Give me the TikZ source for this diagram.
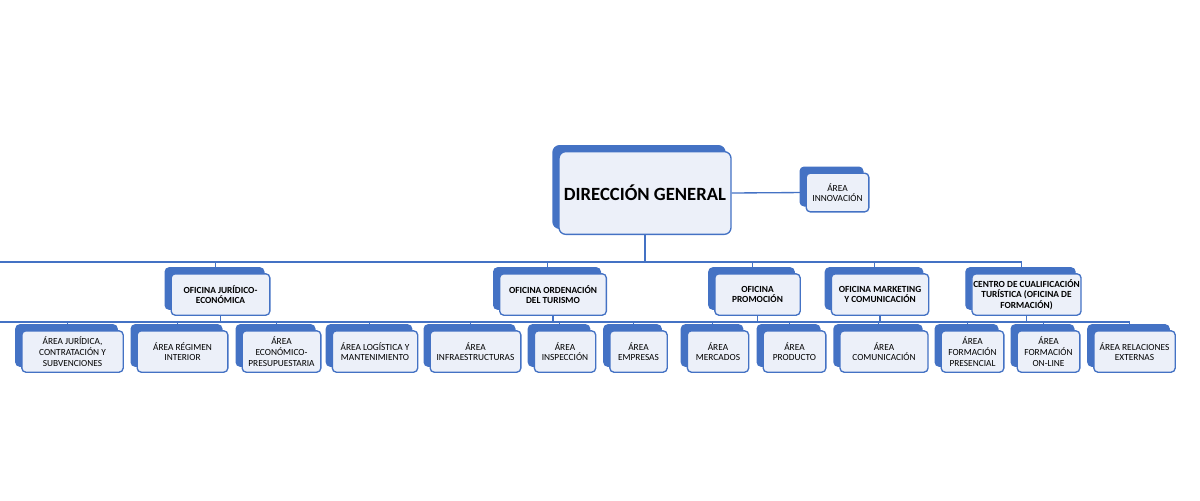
\documentclass[tikz,border=0pt]{standalone}
\usepackage{fontspec}
\setmainfont{Carlito}
\usetikzlibrary{shadows,backgrounds}
\definecolor{orgblue}{RGB}{68,114,196}
\definecolor{orgfill}{RGB}{236,240,249}
\tikzset{
  unit/.style={draw=orgblue, line width=1pt, fill=orgfill, rounded corners=3pt,
    align=center, font=\bfseries\fontsize{7}{8}\selectfont, inner sep=1pt,
    copy shadow={shadow xshift=-4.5pt, shadow yshift=4.5pt, fill=orgblue, draw=orgblue}},
  link/.style={draw=orgblue, line width=1pt}
}
\begin{document}
\begin{tikzpicture}[x=0.75pt,y=-0.75pt]
\useasboundingbox (0,0) rectangle (1200,500);

% Head
\node[unit, minimum width=129pt, minimum height=62pt, rounded corners=5pt,
  font=\bfseries\fontsize{14}{16}\selectfont] (dg) at (645,193) {DIRECCIÓN GENERAL};
\node[unit, minimum width=47pt, minimum height=29pt, font=\fontsize{7}{8}\selectfont] (inn) at (837.5,192.5) {ÁREA\\INNOVACIÓN};

% Offices
\node[unit, minimum width=74pt, minimum height=31pt] (ofj) at (220.5,294.5) {OFICINA JURÍDICO-\\ECONÓMICA};
\node[unit, minimum width=80pt, minimum height=31pt] (ofo) at (553,294.5) {OFICINA ORDENACIÓN\\DEL TURISMO};
\node[unit, minimum width=64pt, minimum height=31pt] (ofp) at (757.5,294.5) {OFICINA\\PROMOCIÓN};
\node[unit, minimum width=73pt, minimum height=31pt] (ofm) at (880,294.5) {OFICINA MARKETING\\Y COMUNICACIÓN};
\node[unit, minimum width=80pt, minimum height=31pt] (ccf) at (1026.5,294.5) {CENTRO DE CUALIFICACIÓN\\TURÍSTICA (OFICINA DE\\FORMACIÓN)};

% Areas
\tikzset{area/.style={unit, minimum height=31pt, font=\fontsize{7}{8}\selectfont}}
\node[area, minimum width=76pt] (ajc) at (72.5,351.5) {ÁREA JURÍDICA,\\CONTRATACIÓN Y\\SUBVENCIONES};
\node[area, minimum width=68pt] (arg) at (182.5,351.5) {ÁREA RÉGIMEN\\INTERIOR};
\node[area, minimum width=59pt] (aep) at (281.5,351.5) {ÁREA\\ECONÓMICO-\\PRESUPUESTARIA};
\node[area, minimum width=64pt] (alm) at (375,351.5) {ÁREA LOGÍSTICA Y\\MANTENIMIENTO};
\node[area, minimum width=68pt] (ain) at (475.5,351.5) {ÁREA\\INFRAESTRUCTURAS};
\node[area, minimum width=46pt] (ais) at (565,351.5) {ÁREA\\INSPECCIÓN};
\node[area, minimum width=43pt] (aem) at (638.5,351.5) {ÁREA\\EMPRESAS};
\node[area, minimum width=46pt] (ame) at (718,351.5) {ÁREA\\MERCADOS};
\node[area, minimum width=47pt] (apr) at (794.5,351.5) {ÁREA\\PRODUCTO};
\node[area, minimum width=66pt] (aco) at (884,351.5) {ÁREA\\COMUNICACIÓN};
\node[area, minimum width=47pt] (afp) at (972.5,351.5) {ÁREA\\FORMACIÓN\\PRESENCIAL};
\node[area, minimum width=47pt] (afo) at (1048.5,351.5) {ÁREA\\FORMACIÓN\\ON-LINE};
\node[area, minimum width=61pt] (are) at (1134.5,351.5) {ÁREA RELACIONES\\EXTERNAS};

\begin{scope}[on background layer]
\draw[link] (dg.east) -- (inn.west);
\foreach \o in {ofj,ofo,ofp,ofm,ccf}
  \draw[link] (dg.south) |- (0,262) -| ([xshift=-4pt,yshift=4.5pt]\o.north);
\foreach \o/\a in {ofj/ajc,ofj/arg,ofj/aep,ofj/alm,ofo/ain,ofo/ais,ofo/aem,
    ofp/ame,ofp/apr,ofm/aco,ccf/afp,ccf/afo,ccf/are}
  \draw[link] (\o.south) |- (0,322) -| ([xshift=-4pt,yshift=4.5pt]\a.north);
\end{scope}
\end{tikzpicture}
\end{document}
